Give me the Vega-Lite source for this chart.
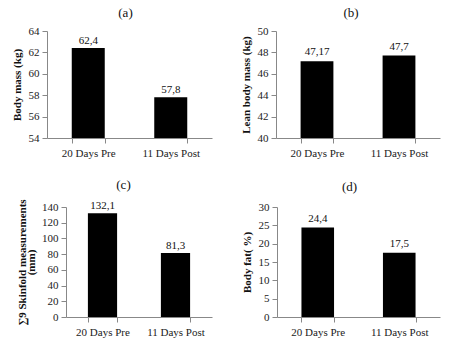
{
  "$schema": "https://vega.github.io/schema/vega-lite/v6.json",
  "background": "white",
  "padding": {"left": 11, "top": 7, "right": 5, "bottom": 5},
  "config": {
    "font": "Liberation Serif",
    "view": {"stroke": null},
    "title": {"font": "Liberation Serif", "fontSize": 13, "fontWeight": "normal", "color": "#111", "offset": 5},
    "axis": {
      "labelFont": "Liberation Serif", "labelFontSize": 11, "labelColor": "#222",
      "titleFont": "Liberation Serif", "titleFontSize": 11, "titleFontWeight": "bold", "titleColor": "#111",
      "domainColor": "#888", "tickColor": "#888", "grid": false, "tickSize": 5, "labelPadding": 3
    },
    "text": {"font": "Liberation Serif", "fontSize": 11, "color": "#111"}
  },
  "datasets": {
    "d": [
      {"panel": "a", "period": "20 Days Pre", "value": 62.4, "label": "62,4"},
      {"panel": "a", "period": "11 Days Post", "value": 57.8, "label": "57,8"},
      {"panel": "b", "period": "20 Days Pre", "value": 47.17, "label": "47,17"},
      {"panel": "b", "period": "11 Days Post", "value": 47.7, "label": "47,7"},
      {"panel": "c", "period": "20 Days Pre", "value": 132.1, "label": "132,1"},
      {"panel": "c", "period": "11 Days Post", "value": 81.3, "label": "81,3"},
      {"panel": "d", "period": "20 Days Pre", "value": 24.4, "label": "24,4"},
      {"panel": "d", "period": "11 Days Post", "value": 17.5, "label": "17,5"}
    ]
  },
  "align": "none",
  "spacing": 20,
  "vconcat": [
    {
      "spacing": 28,
      "hconcat": [
        {
          "title": {"text": "(a)", "dx": -4},
          "width": 165, "height": 107,
          "data": {"name": "d"},
          "transform": [{"filter": "datum.panel === 'a'"}],
          "encoding": {
            "x": {"field": "period", "type": "nominal", "sort": ["20 Days Pre", "11 Days Post"],
                  "scale": {"paddingInner": 0.6, "paddingOuter": 0.3},
                  "axis": {"title": null, "labelAngle": 0, "tickBand": "extent", "labelPadding": 4}},
            "y": {"field": "value", "type": "quantitative",
                  "scale": {"domain": [54, 64], "nice": false, "zero": false},
                  "axis": {"title": "Body mass (kg)", "values": [54, 56, 58, 60, 62, 64], "titlePadding": 6}}
          },
          "layer": [
            {"mark": {"type": "bar", "color": "black", "clip": true}},
            {"mark": {"type": "text", "dy": -7}, "encoding": {"text": {"field": "label"}}}
          ]
        },
        {
          "title": {"text": "(b)", "dx": -7},
          "width": 164, "height": 107,
          "data": {"name": "d"},
          "transform": [{"filter": "datum.panel === 'b'"}],
          "encoding": {
            "x": {"field": "period", "type": "nominal", "sort": ["20 Days Pre", "11 Days Post"],
                  "scale": {"paddingInner": 0.6, "paddingOuter": 0.3},
                  "axis": {"title": null, "labelAngle": 0, "tickBand": "extent", "labelPadding": 4}},
            "y": {"field": "value", "type": "quantitative",
                  "scale": {"domain": [40, 50], "nice": false, "zero": false},
                  "axis": {"title": "Lean body mass (kg)", "values": [40, 42, 44, 46, 48, 50], "titlePadding": 6}}
          },
          "layer": [
            {"mark": {"type": "bar", "color": "black", "clip": true}},
            {"mark": {"type": "text", "dy": -9}, "encoding": {"text": {"field": "label"}}}
          ]
        }
      ]
    },
    {
      "spacing": 29,
      "hconcat": [
        {
          "title": {"text": "(c)", "dx": -6, "offset": 7},
          "width": 165, "height": 110,
          "data": {"name": "d"},
          "transform": [{"filter": "datum.panel === 'c'"}],
          "encoding": {
            "x": {"field": "period", "type": "nominal", "sort": ["20 Days Pre", "11 Days Post"],
                  "scale": {"paddingInner": 0.6, "paddingOuter": 0.3, "range": [19, 165]},
                  "axis": {"title": null, "labelAngle": 0, "tickBand": "extent", "labelPadding": 4}},
            "y": {"field": "value", "type": "quantitative",
                  "scale": {"domain": [0, 140], "nice": false},
                  "axis": {"title": ["∑9 Skinfold measurements", "(mm)"], "titleLineHeight": 9, "values": [0, 20, 40, 60, 80, 100, 120, 140], "titlePadding": 5, "offset": -19}}
          },
          "layer": [
            {"mark": {"type": "bar", "color": "black"}},
            {"mark": {"type": "text", "dy": -7}, "encoding": {"text": {"field": "label"}}}
          ]
        },
        {
          "title": {"text": "(d)", "dx": -9, "offset": 7},
          "width": 163, "height": 110,
          "data": {"name": "d"},
          "transform": [{"filter": "datum.panel === 'd'"}],
          "encoding": {
            "x": {"field": "period", "type": "nominal", "sort": ["20 Days Pre", "11 Days Post"],
                  "scale": {"paddingInner": 0.6, "paddingOuter": 0.3},
                  "axis": {"title": null, "labelAngle": 0, "tickBand": "extent", "labelPadding": 4}},
            "y": {"field": "value", "type": "quantitative",
                  "scale": {"domain": [0, 30], "nice": false},
                  "axis": {"title": "Body fat( %)", "values": [0, 5, 10, 15, 20, 25, 30], "titlePadding": 6}}
          },
          "layer": [
            {"mark": {"type": "bar", "color": "black"}},
            {"mark": {"type": "text", "dy": -9}, "encoding": {"text": {"field": "label"}}}
          ]
        }
      ]
    }
  ]
}
